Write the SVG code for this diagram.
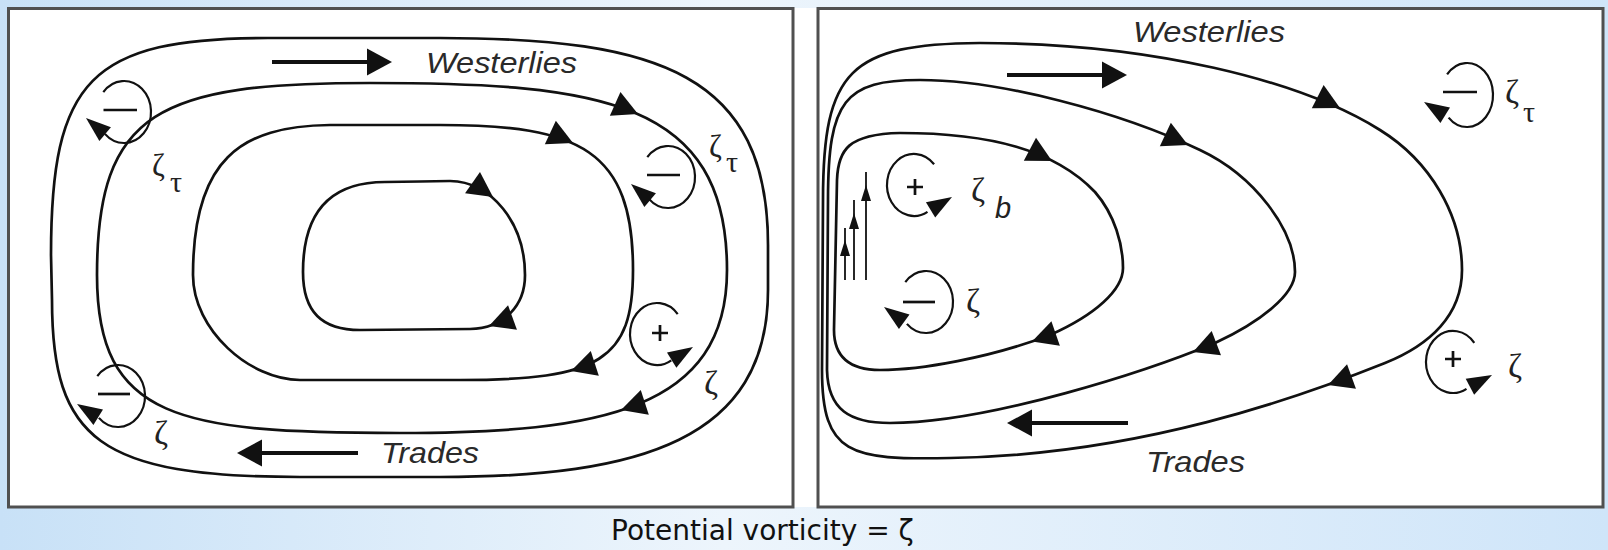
<svg xmlns="http://www.w3.org/2000/svg" width="1608" height="550" viewBox="0 0 1608 550">
  <style>
    .panel { fill: #ffffff; stroke: #505050; stroke-width: 3; }
    .flow { fill: none; stroke: #111; stroke-width: 2.7; stroke-linejoin: round; }
    .vx { fill: none; stroke: #111; stroke-width: 2.2; }
    .sign { fill: none; stroke: #111; stroke-width: 2.7; }
    .wind { stroke: #111; stroke-width: 4; }
    .wall { stroke: #111; stroke-width: 1.8; }
    .head { fill: #111; }
    .lbl { font-family: "Liberation Sans", Arial, sans-serif; font-style: italic; font-size: 29px; fill: #2a2a2a; }
    .zeta { font-family: "Liberation Serif", "DejaVu Serif", serif; font-size: 34px; fill: #222; }
    .zs { font-family: "Liberation Serif", "DejaVu Serif", serif; font-size: 31px; fill: #222; }
    .sub { font-family: "Liberation Serif", "DejaVu Serif", serif; font-size: 30px; fill: #222; }
    .subb { font-family: "Liberation Sans", Arial, sans-serif; font-style: italic; font-size: 29px; fill: #222; }
    .cap { font-family: "DejaVu Sans", Verdana, sans-serif; font-size: 28px; fill: #111; }
  </style>
  <defs>
    <linearGradient id="bg" x1="0" y1="0" x2="1" y2="0">
      <stop offset="0" stop-color="#c8e1f7"/>
      <stop offset="0.45" stop-color="#edf5fc"/>
      <stop offset="1" stop-color="#cfe5f9"/>
    </linearGradient>
    <!-- arrowheads: tip at origin, pointing along +x -->
    <polygon id="ah" class="head" points="0,0 -25,-13 -25,13"/>
    <polygon id="va" class="head" points="0,0 -25,-9 -25,9"/>
    <polygon id="wa" class="head" points="0,0 -25,-13.5 -25,13.5"/>
    <polygon id="sa" class="head" points="0,0 -16,-5 -16,5"/>
  </defs>

  <rect x="0" y="0" width="1608" height="550" fill="url(#bg)"/>
  <rect x="8" y="8" width="1596" height="499" fill="#ffffff"/>

  <!-- Left panel: symmetric wind-driven gyre -->
  <g id="gyre-symmetric">
    <rect class="panel" x="8.5" y="8.5" width="784.5" height="498.5"/>
    <g id="streamlines-left">
      <path class="flow" d="M 350 38 L 440 38 C 660 38, 768 75, 768 245 L 768 290 C 768 440, 640 477, 440 477 L 300 477 C 100 477, 52 440, 52 300 L 51 255 C 51 80, 90 38, 268 38 Z"/>
      <path class="flow" d="M 370 83 C 600 83, 727 100, 727 270 C 727 410, 600 433, 400 433 C 180 433, 97 420, 97 275 C 97 110, 160 83, 370 83 Z"/>
      <path class="flow" d="M 390 125 L 440 125 C 580 125, 633 150, 633 270 C 633 360, 600 380, 460 380 L 300 380 C 250 380, 193 330, 193 275 C 193 160, 240 126, 330 125 Z"/>
      <path class="flow" d="M 420 181.5 L 450 181 C 491 181, 525 223, 525 275 C 525 305, 505 328, 470 329 L 360 330 C 322 330, 303 312, 303 272 C 303 212, 330 182, 385 182 Z"/>
      <use href="#ah" transform="translate(638,114) rotate(24)"/>
      <use href="#ah" transform="translate(573,143) rotate(25)"/>
      <use href="#ah" transform="translate(493,197) rotate(35)"/>
      <use href="#ah" transform="translate(489,326) rotate(160)"/>
      <use href="#ah" transform="translate(571,371) rotate(162)"/>
      <use href="#ah" transform="translate(621,410) rotate(162)"/>
    </g>
    <g id="winds-left">
      <line class="wind" x1="272" y1="62" x2="370" y2="62"/>
      <use href="#wa" transform="translate(392,62)"/>
      <text class="lbl" x="426" y="73" textLength="151" lengthAdjust="spacingAndGlyphs">Westerlies</text>
      <line class="wind" x1="358" y1="453" x2="260" y2="453"/>
      <use href="#wa" transform="translate(237,453) rotate(180)"/>
      <text class="lbl" x="381" y="463" textLength="98" lengthAdjust="spacingAndGlyphs">Trades</text>
    </g>
    <g id="vortex-nw">
      <path class="vx" d="M 103.3 92.1 A 27 31 0 1 1 104.9 133.9"/>
      <use href="#va" transform="translate(86,118) rotate(220)"/>
      <path class="sign" d="M 103.5 110 H 137"/>
      <text class="zs" x="152" y="176">ζ</text><text class="sub" x="170" y="192">τ</text>
    </g>
    <g id="vortex-ne">
      <path class="vx" d="M 647.3 157.1 A 27 31 0 1 1 648.9 198.9"/>
      <use href="#va" transform="translate(631,184) rotate(220)"/>
      <path class="sign" d="M 647 175 H 680"/>
      <text class="zs" x="709" y="157">ζ</text><text class="sub" x="726" y="172">τ</text>
    </g>
    <g id="vortex-e">
      <path class="vx" d="M 677.7 314.1 A 27 31 0 1 0 671.3 360.3"/>
      <use href="#va" transform="translate(693,347) rotate(-31.5)"/>
      <path class="sign" d="M 652 333 H 668 M 660 325 V 341"/>
      <text class="zeta" x="704" y="394">ζ</text>
    </g>
    <g id="vortex-sw">
      <path class="vx" d="M 97.3 376.1 A 27 31 0 1 1 98.9 417.9"/>
      <use href="#va" transform="translate(77,404) rotate(212)"/>
      <path class="sign" d="M 98 394 H 130"/>
      <text class="zeta" x="154" y="444">ζ</text>
    </g>
  </g>

  <!-- Right panel: westward-intensified gyre -->
  <g id="gyre-western-intensified">
    <rect class="panel" x="818" y="8.5" width="785" height="498.5"/>
    <g id="streamlines-right">
      <path class="flow" d="M 822 370 L 823 200 C 823 70, 850 44, 980 43 C 1150 43, 1300 80, 1380 130 C 1430 161, 1462 215, 1462 270 C 1462 315, 1430 345, 1385 363 C 1300 397, 1140 455, 950 458 C 850 460, 822 455, 822 370 Z"/>
      <path class="flow" d="M 827 370 L 828 200 C 828 100, 845 80, 920 80 C 1000 80, 1120 112, 1200 150 C 1255 176, 1295 230, 1295 272 C 1295 295, 1260 322, 1215 343 C 1150 370, 990 423, 890 423 C 850 423, 828 410, 827 370 Z"/>
      <path class="flow" d="M 834 330 L 837 180 C 838 150, 848 134, 900 133 C 990 133, 1055 150, 1095 192 C 1115 215, 1123 245, 1123 268 C 1123 290, 1095 315, 1050 335 C 990 358, 920 370, 880 370 C 848 370, 834 355, 834 330 Z"/>
      <use href="#ah" transform="translate(1340,108) rotate(27)"/>
      <use href="#ah" transform="translate(1188,145) rotate(25)"/>
      <use href="#ah" transform="translate(1052,161) rotate(28)"/>
      <use href="#ah" transform="translate(1032,341.6) rotate(161)"/>
      <use href="#ah" transform="translate(1193,352) rotate(159)"/>
      <use href="#ah" transform="translate(1328,385) rotate(160)"/>
    </g>
    <g id="boundary-current">
      <line class="wall" x1="845" y1="280" x2="845" y2="228"/>
      <use href="#sa" transform="translate(845,240) rotate(-90)"/>
      <line class="wall" x1="854" y1="280" x2="854" y2="200"/>
      <use href="#sa" transform="translate(854,213) rotate(-90)"/>
      <line class="wall" x1="866" y1="280" x2="866" y2="172"/>
      <use href="#sa" transform="translate(866,185) rotate(-90)"/>
    </g>
    <g id="winds-right">
      <line class="wind" x1="1007" y1="75" x2="1105" y2="75"/>
      <use href="#wa" transform="translate(1127,75)"/>
      <text class="lbl" x="1133" y="42" textLength="152" lengthAdjust="spacingAndGlyphs">Westerlies</text>
      <line class="wind" x1="1128" y1="423" x2="1030" y2="423"/>
      <use href="#wa" transform="translate(1007,423) rotate(180)"/>
      <text class="lbl" x="1146" y="472" textLength="99" lengthAdjust="spacingAndGlyphs">Trades</text>
    </g>
    <g id="vortex-bottom-friction">
      <path class="vx" d="M 934.1 164.3 A 27 31 0 1 0 927.5 211.8"/>
      <use href="#va" transform="translate(952,197) rotate(-31)"/>
      <path class="sign" d="M 907 187 H 923 M 915 179 V 195"/>
      <text class="zeta" x="971" y="201">ζ</text><text class="subb" x="995" y="218">b</text>
    </g>
    <g id="vortex-west">
      <path class="vx" d="M 905.3 282.1 A 27 31 0 1 1 906.9 323.9"/>
      <use href="#va" transform="translate(884,307) rotate(216)"/>
      <path class="sign" d="M 903 302 H 935"/>
      <text class="zeta" x="966" y="312">ζ</text>
    </g>
    <g id="vortex-wind">
      <path class="vx" d="M 1447.1 74.4 A 26 32 0 1 1 1448.6 117.6"/>
      <use href="#va" transform="translate(1424,102) rotate(212)"/>
      <path class="sign" d="M 1443 92 H 1477"/>
      <text class="zeta" x="1505" y="103">ζ</text><text class="sub" x="1523" y="122">τ</text>
    </g>
    <g id="vortex-east">
      <path class="vx" d="M 1474.3 342.9 A 27 31 0 1 0 1466.5 388.8"/>
      <use href="#va" transform="translate(1492,375) rotate(-28)"/>
      <path class="sign" d="M 1445 359 H 1461 M 1453 351 V 367"/>
      <text class="zeta" x="1508" y="377">ζ</text>
    </g>
  </g>

  <text id="caption" class="cap" x="611" y="540">Potential vorticity = ζ</text>
</svg>
